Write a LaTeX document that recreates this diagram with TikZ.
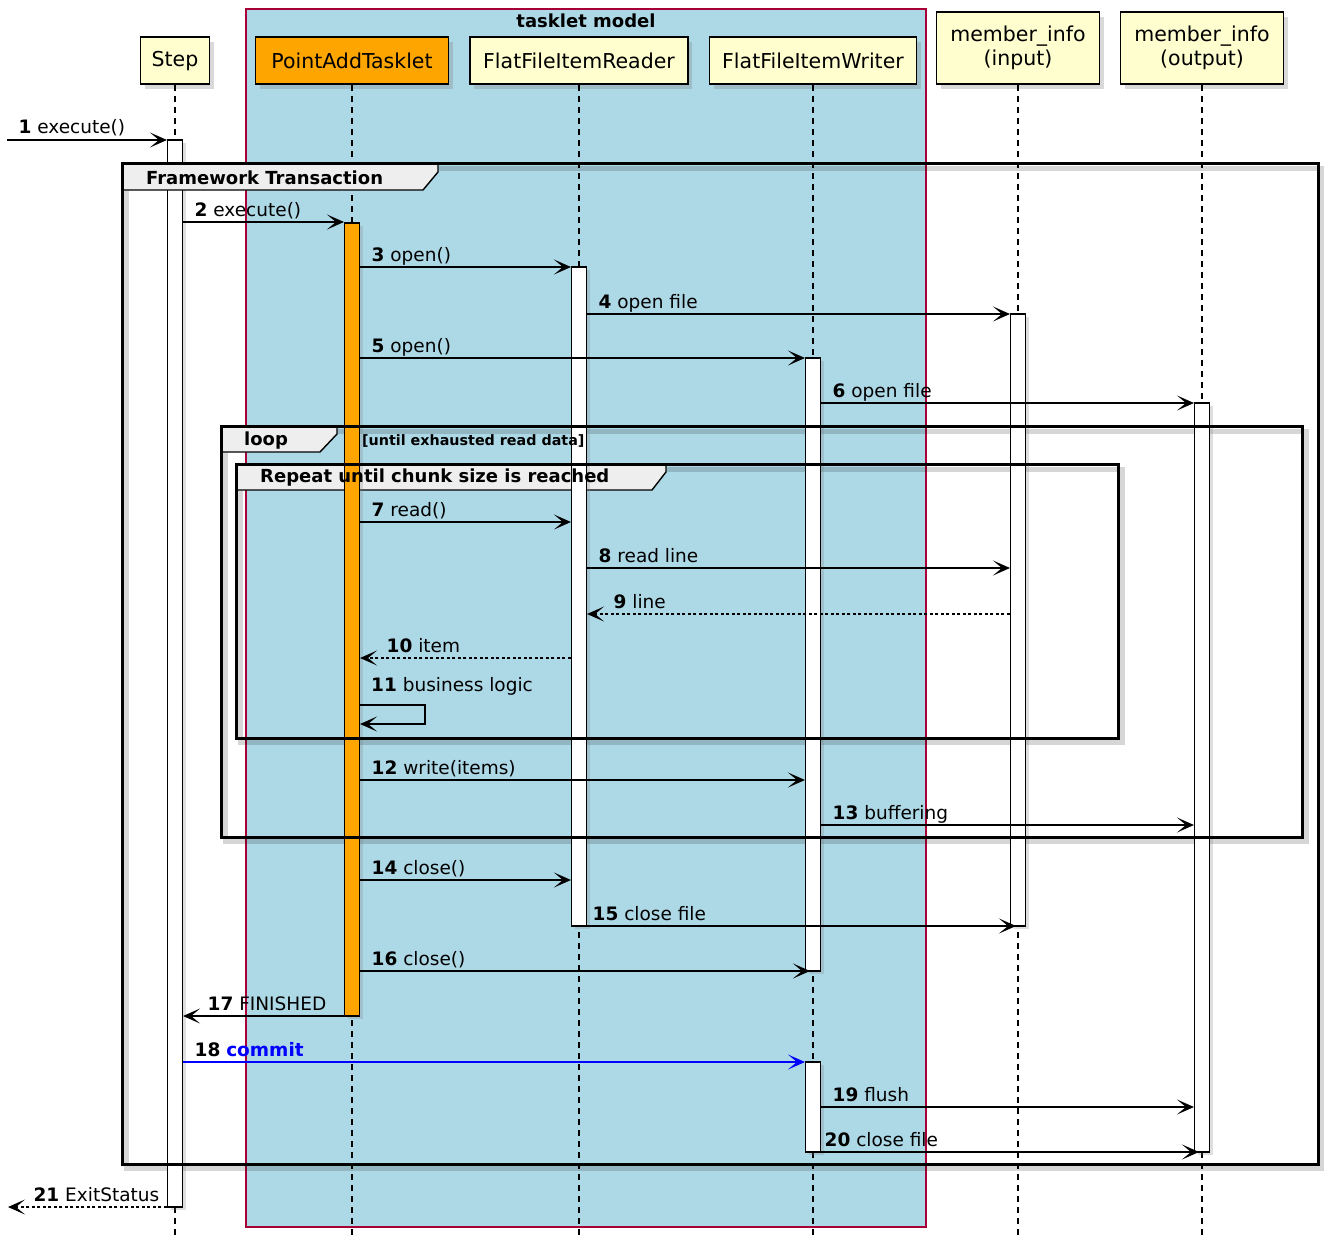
\documentclass[tikz,border=0pt]{standalone}
\usepackage{fontspec}
\setmainfont{DejaVu Sans}
\usepackage{xcolor}
\usetikzlibrary{arrows.meta,positioning,shadows}
\definecolor{partfill}{HTML}{FEFECE}
\definecolor{boxfill}{HTML}{ADD8E6}
\definecolor{boxline}{HTML}{A80036}
\definecolor{tabfill}{HTML}{EEEEEE}
\definecolor{taskorange}{HTML}{FFA500}

\begin{document}
\begin{tikzpicture}[x=1pt, y=-1pt, font=\fontsize{18.5}{22}\selectfont,
  part/.style={draw, line width=1.5pt, fill=partfill, anchor=south, minimum height=47pt,
    inner sep=2pt, align=center, font=\fontsize{20.5}{24}\selectfont,
    drop shadow={shadow xshift=4pt, shadow yshift=-5pt, opacity=.3}},
  act/.style={draw, line width=1.1pt, fill=white, minimum width=15pt, inner sep=0pt,
    drop shadow={shadow xshift=3pt, shadow yshift=-3pt, opacity=.25}},
  msg/.style={line width=1.2pt, -{Stealth[length=17pt, width=15pt, inset=9pt]}},
  ret/.style={msg, dash pattern=on 3pt off 2.5pt},
  lbl/.style={anchor=base west, inner sep=0pt, yshift=6pt, text=black},
  lifeline/.style={line width=1.2pt, dash pattern=on 6pt off 5pt},
  frame/.style={line width=3pt},
  frameshadow/.style={line width=5pt, black, opacity=.16},
  tab/.style={draw, line width=1.4pt, fill=tabfill},
  grp/.style={anchor=west, inner sep=0pt, font=\fontsize{18}{21}\selectfont\bfseries}]

\useasboundingbox (0,0) rectangle (1324,1236);

% ---------- tasklet model box ----------
\draw[boxline, fill=boxfill, line width=1.2pt] (246,9) rectangle (926,1227);
\node[font=\fontsize{18}{21}\selectfont\bfseries] (boxtitle) at (586,21) {tasklet model};

% ---------- participants ----------
\node[part, minimum width=69pt] (step) at (175,85) {Step};
\node[part, minimum width=193pt, fill=taskorange] (tasklet) at (352,85) {PointAddTasklet};
\node[part, minimum width=218pt] (reader) at (579,85) {FlatFileItemReader};
\node[part, minimum width=207pt] (writer) at (813,85) {FlatFileItemWriter};
\node[part, minimum width=163pt, minimum height=72pt] (input) at (1018,85) {member\_info\\(input)};
\node[part, minimum width=163pt, minimum height=72pt] (output) at (1202,85) {member\_info\\(output)};

\foreach \p in {step,tasklet,reader,writer,input,output}{
  \draw[lifeline] (\p.south) -- (\p.south |- 0,1236);}

% ---------- group shadows ----------
\draw[frameshadow] (126,168) rectangle (1322,1168);
\draw[frameshadow] (225,431) rectangle (1306,841);
\draw[frameshadow] (240,469) rectangle (1122,742);

% ---------- activations ----------
\node[act, minimum height=1067pt] (stepact) at (step.south |- 0,673.5) {};

\draw[tab] (122,164) -- (438,164) -- (438,172) -- (423,190) -- (122,190) -- cycle;
\draw[tab] (221,427) -- (337,427) -- (337,434) -- (320,452) -- (221,452) -- cycle;
\draw[tab] (236,465) -- (666,465) -- (666,472) -- (652,490) -- (236,490) -- cycle;

\node[act, minimum height=793pt, fill=taskorange] (taskact) at (tasklet.south |- 0,619.5) {};
\node[act, minimum height=659pt] (readact) at (reader.south |- 0,596.5) {};
\node[act, minimum height=613pt] (writeact) at (writer.south |- 0,664.5) {};
\node[act, minimum height=90pt] (writeact2) at (writer.south |- 0,1107) {};
\node[act, minimum height=612pt] (inact) at (input.south |- 0,620) {};
\node[act, minimum height=749pt] (outact) at (output.south |- 0,777.5) {};

% ---------- groups ----------
\draw[frame] (122,163) rectangle (1318,1164);
\draw[frame] (221,426) rectangle (1302,837);
\draw[frame] (236,464) rectangle (1118,738);
\node[grp] (fwlabel) at (146,178) {Framework Transaction};
\node[grp] (looplabel) at (244,441) {loop};
\node[grp, font=\fontsize{14.3}{17}\selectfont\bfseries] (loopcond) at (362,441) {[until exhausted read data]};
\node[grp] (chunklabel) at (260,478) {Repeat until chunk size is reached};

% ---------- messages ----------
\coordinate (in1) at (7,140);
\coordinate (out21) at (8,1207);
\draw[msg] (in1) -- node[lbl, at start, xshift=11pt] {\textbf{1} execute()} (stepact.west |- 0,140);

\foreach \y/\a/\b/\n/\t in {
  222/stepact/taskact/2/execute(),
  267/taskact/readact/3/open(),
  314/readact/inact/4/open file,
  358/taskact/writeact/5/open(),
  403/writeact/outact/6/open file,
  522/taskact/readact/7/read(),
  568/readact/inact/8/read line,
  780/taskact/writeact/12/write(items),
  825/writeact/outact/13/buffering,
  880/taskact/readact/14/close(),
  1107/writeact2/outact/19/flush}{
  \draw[msg] (\a.east |- 0,\y) -- node[lbl, at start, xshift=11pt] {\textbf{\n} \t} (\b.west |- 0,\y);}

\draw[ret] (inact.west |- 0,614) -- node[lbl, at end, xshift=26pt] {\textbf{9} line} (readact.east |- 0,614);
\draw[ret] (readact.west |- 0,658) -- node[lbl, at end, xshift=26pt] {\textbf{10} item} (taskact.east |- 0,658);
\draw[msg] (taskact.east |- 0,705) -- ++(65,0) -- ++(0,19) -- (taskact.east |- 0,724);
\node[lbl, anchor=base west] (selflbl) at (371,697) {\textbf{11} business logic};

\draw[msg] (readact.east |- 0,926) -- node[lbl, at start, xshift=5pt] {\textbf{15} close file} ([xshift=-2pt]inact.center |- 0,926);
\draw[msg] (taskact.east |- 0,971) -- node[lbl, at start, xshift=11pt] {\textbf{16} close()} ([xshift=-3pt]writeact.center |- 0,971);
\draw[msg] (taskact.west |- 0,1016) -- node[lbl, at end, xshift=24pt] {\textbf{17} FINISHED} (stepact.east |- 0,1016);
\draw[msg, blue] (stepact.east |- 0,1062) -- node[lbl, at start, xshift=11pt] {\textbf{18} \textcolor{blue}{\textbf{commit}}} (writeact2.west |- 0,1062);
\draw[msg] (writeact2.east |- 0,1152) -- node[lbl, at start, xshift=3pt] {\textbf{20} close file} ([xshift=-3pt]outact.center |- 0,1152);
\draw[ret] (stepact.west |- 0,1207) -- node[lbl, at end, xshift=25pt] {\textbf{21} ExitStatus} (out21);
\end{tikzpicture}
\end{document}
